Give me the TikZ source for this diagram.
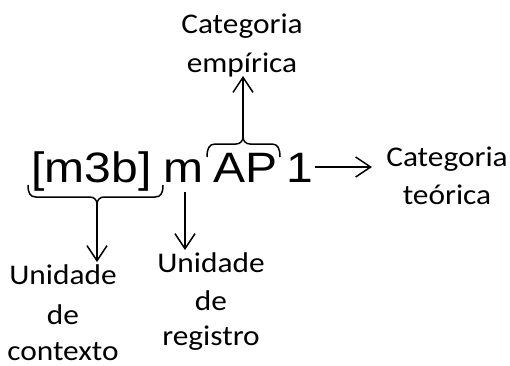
\documentclass[tikz,border=0pt]{standalone}
\usepackage{fontspec}
\usetikzlibrary{arrows.meta}
\newfontfamily\bigfnt[FakeStretch=1.13]{Liberation Sans}
\newfontfamily\lblfnt[FakeStretch=1.1]{Carlito}
\begin{document}
\begin{tikzpicture}[x=1pt,y=-1pt,
  big/.style={font=\bigfnt\fontsize{42.5}{50}\selectfont, inner sep=0pt, anchor=base},
  lbl/.style={font=\lblfnt\fontsize{28.5}{37}\selectfont, align=center, inner sep=0pt, anchor=base},
  arr/.style={line width=1.5pt, -{Straight Barb[length=15pt,width=20pt]}},
  brc/.style={line width=1.5pt}]
\useasboundingbox (0,0) rectangle (510,365);
% main text
\node[big] (ctx) at (91.5,182) {[m3b]};
\node[big] (reg) at (183,182) {m};
\node[big] (ap) at (245.5,182) {AP};
\node[big] (one) at (300,182) {1};
% labels (anchored at the baseline of the last line)
\node[lbl] (emp) at (242,72) {Categoria\\[2pt]empírica};
\node[lbl] (teo) at (447,204) {Categoria\\[1pt]teórica};
\node[lbl] (uctx) at (63,360) {Unidade\\[3pt]de\\[-1pt]contexto};
\node[lbl] (ureg) at (211,345) {Unidade\\[1pt]de\\[-2pt]registro};
% braces
\draw[brc] (28,185) .. controls (28,193) and (30,197) .. (36,197) -- (90,197)
  .. controls (94,197) and (97,200) .. (97,204)
  .. controls (97,200) and (100,197) .. (104,197) -- (155,197)
  .. controls (161,197) and (163,193) .. (163,185);
\draw[brc] (207,157) .. controls (207,149) and (209,144) .. (215,144) -- (236,144)
  .. controls (240,144) and (243,141) .. (243,137)
  .. controls (243,141) and (246,144) .. (250,144) -- (272,144)
  .. controls (278,144) and (280,149) .. (280,157);
\coordinate (t1) at (97,204);
\coordinate (t2) at (243,137);
\coordinate (h1) at (97,262);
\coordinate (s2) at (185,192);
\coordinate (h2) at (185,250);
\coordinate (h3) at (243,76);
\coordinate (s4) at (315,167);
\coordinate (h4) at (372,167);
% arrows
\draw[arr] (t1) -- (h1);
\draw[arr] (s2) -- (h2);
\draw[arr] (t2) -- (h3);
\draw[arr] (s4) -- (h4);
\end{tikzpicture}
\end{document}
